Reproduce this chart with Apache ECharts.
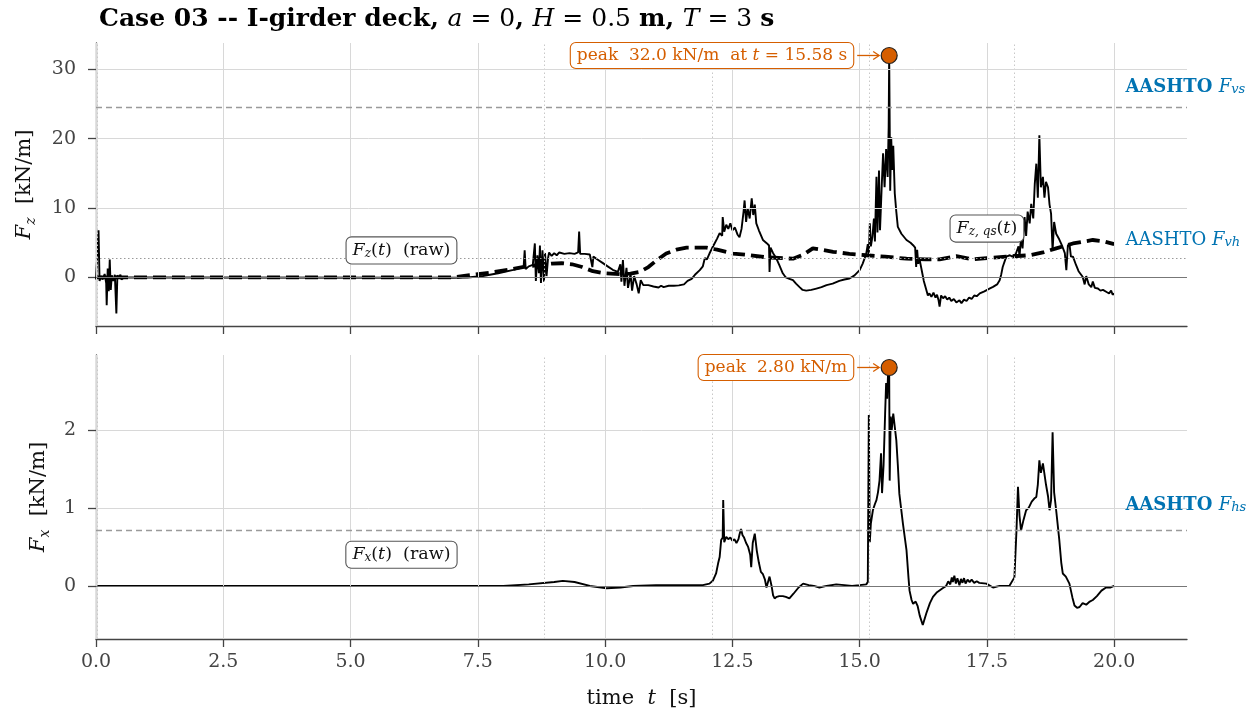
<!DOCTYPE html>
<html>
<head>
<meta charset="utf-8">
<script src="https://cdn.jsdelivr.net/npm/echarts@6/dist/echarts.min.js"></script>
<style>
  html, body { margin: 0; padding: 0; background: #ffffff; }
  #chart { width: 1257px; height: 717px; }
</style>
</head>
<body>
<div id="chart"></div>
<script>
// ---- vertical force, raw signal [s], [kN/m] ----
const fzTime = [0.00,0.03,0.05,0.07,0.10,0.13,0.17,0.20,0.21,0.23,0.25,0.27,0.29,0.31,0.34,0.37,0.40,0.42,0.45,0.48,0.50,0.55,1.0,7.0,7.3,7.6,7.9,8.2,
  8.40,8.42,8.44,8.50,8.58,8.62,8.64,8.67,8.70,8.72,8.74,8.77,8.80,8.82,8.85,8.88,8.90,8.95,9.00,9.05,9.10,9.20,9.30,9.40,9.47,9.49,9.51,9.60,9.70,9.73,9.75,9.77,
  9.85,9.95,10.05,10.15,10.25,10.30,10.32,10.35,10.38,10.42,10.45,10.50,10.53,10.57,10.62,10.66,10.70,10.75,10.85,10.95,11.05,11.10,11.15,11.25,11.35,11.45,11.55,
  11.62,11.70,11.78,11.86,11.92,11.96,12.00,12.05,12.10,12.15,12.20,12.25,12.30,12.31,12.34,12.38,12.42,12.46,12.50,12.55,12.60,12.64,12.68,12.72,12.74,12.77,12.80,
  12.84,12.88,12.91,12.94,12.97,13.02,13.10,13.18,13.22,13.23,13.25,13.30,13.36,13.42,13.49,13.55,13.62,13.69,13.75,13.82,13.88,13.95,14.05,14.15,14.25,14.35,14.47,
  14.60,14.70,14.80,14.90,15.00,15.06,15.10,15.13,15.16,15.18,15.20,15.22,15.25,15.28,15.30,15.33,15.35,15.38,15.40,15.43,15.46,15.49,15.52,15.55,15.57,15.58,15.60,
  15.62,15.64,15.66,15.69,15.72,15.75,15.82,15.92,16.00,16.05,16.09,16.11,16.13,16.15,16.18,16.22,16.26,
  16.31,16.34,16.37,16.41,16.45,16.49,16.52,16.55,16.57,16.60,16.64,16.68,16.72,16.76,16.80,16.85,16.90,16.96,17.00,17.05,17.10,17.15,17.20,17.25,17.30,17.36,
  17.45,17.55,17.62,17.70,17.75,17.78,17.81,17.88,17.95,18.00,18.07,18.12,18.14,18.17,18.20,18.24,18.27,18.30,18.34,18.37,18.41,18.44,18.47,
  18.50,18.53,18.56,18.60,18.63,18.66,18.70,18.73,18.76,18.79,18.82,18.86,18.92,18.98,19.03,19.06,19.09,19.12,19.15,19.19,19.25,19.30,19.38,19.42,19.45,19.50,19.55,
  19.58,19.62,19.68,19.73,19.78,19.85,19.90,19.94,19.97,20.00];
const fzRaw = [-0.3,-0.4,6.8,-0.5,0.2,-0.3,0.5,-0.8,-4.0,1.3,-2.0,2.6,-1.8,0.3,-0.5,0.4,-5.2,0.3,0.0,0.4,-0.3,0.0,0.0,-0.05,0.0,0.2,0.6,1.1,
  1.5,3.9,1.2,1.6,1.8,4.9,-0.5,3.2,0.6,4.6,-0.8,3.9,-0.6,3.5,0.2,2.8,3.6,3.1,3.5,3.2,3.6,3.4,3.5,3.4,3.6,6.6,3.4,3.4,3.3,3.2,1.5,3.0,
  2.6,2.1,1.6,1.1,0.8,1.9,-0.6,2.5,-1.2,1.4,-1.5,0.5,-1.9,0.2,-1.0,-2.3,-0.4,-1.1,-1.1,-1.3,-1.45,-1.2,-1.4,-1.2,-1.2,-1.15,-1.0,
  -0.5,-0.2,0.5,1.05,1.6,2.8,2.6,3.45,4.2,4.9,5.6,6.4,6.0,8.7,6.6,7.6,7.0,7.8,6.8,7.2,6.2,5.8,7.0,9.5,11.1,8.0,10.0,
  8.5,11.4,9.0,10.5,7.8,6.8,5.4,4.9,4.6,0.8,4.3,3.5,2.8,1.8,0.6,0.0,-0.2,-0.4,-0.9,-1.4,-1.8,-1.9,-1.8,-1.6,-1.4,-1.1,-0.9,
  -0.5,-0.3,-0.15,0.3,1.05,2.0,2.8,3.45,4.8,3.2,7.8,4.5,5.8,8.5,5.2,14.5,6.5,15.4,6.8,12.5,17.9,13.0,18.5,14.5,21.7,32.0,12.5,
  20.2,15.5,19.0,12.1,9.5,7.3,6.3,5.4,5.0,4.65,4.3,1.5,4.0,2.0,2.5,1.0,-0.5,
  -1.8,-2.6,-2.3,-2.8,-2.2,-2.9,-2.5,-3.3,-4.2,-2.6,-3.0,-2.7,-3.2,-2.9,-3.4,-3.1,-3.6,-3.3,-3.7,-3.2,-3.4,-2.9,-3.1,-2.6,-2.7,-2.3,
  -2.0,-1.6,-1.35,-1.0,-0.4,0.4,1.5,3.0,3.2,3.0,3.45,4.5,3.0,5.8,4.2,8.7,6.0,9.5,7.8,10.6,8.5,13.5,16.4,
  11.5,20.5,13.0,14.5,11.5,13.8,13.0,10.5,9.2,3.9,8.0,6.3,5.5,4.5,3.5,1.05,4.6,4.9,3.0,3.0,1.8,0.9,0.1,-1.0,0.2,-1.0,-1.4,
  -0.6,-1.5,-1.6,-1.9,-1.8,-2.1,-2.3,-1.9,-2.5,-2.3];

// ---- vertical force, quasi-static part ----
const fzQsTime = [0,7.0,7.34,7.73,8.1,8.38,8.70,8.95,9.15,9.35,9.55,9.76,10.0,10.29,10.50,10.68,10.85,11.0,11.2,11.4,11.6,11.99,12.2,12.51,12.85,13.17,
  13.69,13.9,14.08,14.25,14.48,14.8,15.13,15.5,15.92,16.3,16.57,16.9,17.22,17.5,17.88,18.34,18.6,18.86,19.19,19.58,19.8,20.0];
const fzQs = [0,0,0.33,0.67,1.1,1.5,1.8,2.0,2.05,1.9,1.5,0.9,0.6,0.48,0.55,0.8,1.5,2.4,3.45,4.0,4.3,4.3,4.0,3.45,3.2,2.9,
  2.7,3.3,4.2,4.0,3.7,3.4,3.2,3.0,2.7,2.6,2.6,3.06,2.6,2.8,3.0,3.2,3.6,4.2,4.9,5.4,5.2,4.8];

// ---- horizontal force, raw signal ----
const fxTime = [0,8.0,8.5,9.0,9.17,9.4,9.70,10.03,10.3,10.55,11.0,11.5,11.92,12.05,12.12,12.18,12.22,12.25,12.28,12.31,12.32,12.34,12.38,12.42,12.46,12.50,
  12.54,12.58,12.62,12.64,12.67,12.70,12.73,12.77,12.81,12.85,12.87,12.90,12.94,12.98,13.02,13.06,13.10,13.14,13.17,13.20,13.23,13.27,13.30,13.33,13.37,13.42,
  13.49,13.55,13.62,13.70,13.80,13.89,14.0,14.1,14.21,14.35,14.54,14.7,14.85,15.0,15.13,15.16,15.18,15.20,15.22,15.26,15.30,15.33,15.36,15.39,15.42,15.44,15.47,
  15.50,15.52,15.54,15.56,15.58,15.59,15.61,15.63,15.66,15.69,15.72,15.75,15.78,15.85,15.92,15.96,15.98,16.02,16.05,16.10,16.14,16.18,16.24,16.27,16.31,16.38,
  16.44,16.52,16.63,16.70,16.74,16.78,16.81,16.83,16.86,16.89,16.92,16.96,16.99,17.02,17.05,17.08,17.12,17.16,17.20,17.25,17.30,17.35,17.49,
  17.62,17.75,17.94,18.04,18.08,18.11,18.14,18.17,18.22,18.27,18.32,
  18.38,18.43,18.47,18.50,18.53,18.56,18.60,18.63,18.66,18.70,18.73,18.76,18.79,18.82,18.86,18.92,18.96,18.99,19.05,19.12,19.18,19.22,19.27,19.32,19.38,19.45,
  19.52,19.58,19.66,19.75,19.84,19.92,20.00];
const fxRaw = [0,0.0,0.02,0.05,0.065,0.05,0.0,-0.03,-0.02,0.0,0.01,0.01,0.01,0.03,0.07,0.16,0.29,0.37,0.59,0.62,1.10,0.56,0.63,0.60,0.62,0.58,
  0.60,0.55,0.60,0.66,0.73,0.65,0.62,0.55,0.50,0.40,0.24,0.55,0.67,0.45,0.30,0.18,0.15,0.08,-0.02,0.05,0.12,0.00,-0.12,-0.16,-0.14,-0.13,
  -0.13,-0.14,-0.16,-0.10,-0.02,0.03,0.01,0.0,-0.02,0.0,0.02,0.01,0.0,0.01,0.02,0.05,2.19,0.56,0.80,0.97,1.05,1.10,1.20,1.35,1.70,1.19,1.55,
  2.2,2.60,2.40,2.75,2.80,1.35,2.17,2.0,2.21,2.21,1.87,1.55,1.18,0.80,0.46,0.10,-0.06,-0.18,-0.23,-0.20,-0.26,-0.38,-0.50,-0.48,-0.35,-0.22,
  -0.14,-0.08,-0.03,0.0,0.06,0.02,0.11,0.05,0.13,0.03,0.10,0.01,0.09,0.04,0.10,0.03,0.08,0.05,0.08,0.04,0.06,0.04,0.03,
  -0.02,0.0,0.0,0.11,0.7,1.27,0.9,0.71,0.85,0.97,1.00,
  1.08,1.12,1.14,1.30,1.61,1.45,1.57,1.57,1.30,1.15,0.97,1.10,1.97,1.20,0.97,0.60,0.30,0.16,0.12,0.03,-0.15,-0.25,-0.28,-0.27,-0.22,-0.24,
  -0.20,-0.18,-0.13,-0.06,-0.02,-0.02,0.0];

// ---- design reference levels and events ----
const aashtoFvs = 24.55;   // kN/m
const aashtoFvh = 2.8;     // kN/m
const aashtoFhs = 0.72;    // kN/m
const waveArrivals = [0.02, 8.81, 12.10, 15.18, 18.04];
const peakFz = { t: 15.58, value: 32.0 };
const peakFx = { t: 15.58, value: 2.80 };

const timeTicks = [0, 2.5, 5, 7.5, 10, 12.5, 15, 17.5, 20];
const fzTicks = [0, 10, 20, 30];
const fxTicks = [0, 1, 2];

// ---- styling ----
const SERIF = '"DejaVu Serif", "Liberation Serif", serif';
const ORANGE = '#d55e00';
const BLUE = '#0173b2';
const GRID_GREY = '#d8d8d8';
const AXIS_GREY = '#444444';

const zip = (a, b) => a.map((x, i) => [x, b[i]]);

const chart = echarts.init(document.getElementById('chart'), null, { renderer: 'canvas' });

function xAxisFor(gridIndex, withLabels) {
  return {
    type: 'value', gridIndex, min: 0, max: 21.43,
    axisLine: { show: true, onZero: false, lineStyle: { color: AXIS_GREY, width: 1.3 } },
    axisTick: { show: true, length: 8, customValues: timeTicks, lineStyle: { color: AXIS_GREY, width: 1.3 } },
    axisLabel: { show: withLabels, customValues: timeTicks, margin: 14, color: AXIS_GREY, fontFamily: SERIF, fontSize: 19,
      formatter: v => v.toFixed(1) },
    splitLine: { show: false },
    name: withLabels ? 'time  {i|t}  [s]' : '',
    nameLocation: 'middle', nameGap: 49,
    nameTextStyle: { fontFamily: SERIF, fontSize: 21, color: '#111',
      rich: { i: { fontFamily: SERIF, fontStyle: 'italic', fontSize: 21, color: '#111' } } }
  };
}

function yAxisFor(gridIndex, min, max, ticks, sub, gap) {
  return {
    type: 'value', gridIndex, min, max,
    axisLine: { show: true, onZero: false, lineStyle: { color: AXIS_GREY, width: 1.3 } },
    axisTick: { show: true, length: 8, customValues: ticks, lineStyle: { color: AXIS_GREY, width: 1.3 } },
    axisLabel: { customValues: ticks, margin: 20, color: AXIS_GREY, fontFamily: SERIF, fontSize: 19 },
    splitLine: { show: false },
    name: '{i|F}{s|' + sub + '}{n|  [kN/m]}',
    nameLocation: 'middle', nameRotate: 90, nameGap: gap,
    nameTextStyle: {
      rich: {
        i: { fontFamily: SERIF, fontStyle: 'italic', fontSize: 21, color: '#111', lineHeight: 26 },
        s: { fontFamily: SERIF, fontStyle: 'italic', fontSize: 14, color: '#111', verticalAlign: 'bottom', lineHeight: 16 },
        n: { fontFamily: SERIF, fontSize: 21, color: '#111', lineHeight: 26 }
      }
    }
  };
}

function guideLines(ticks, refs) {
  const data = [];
  timeTicks.forEach(t => data.push({ xAxis: t, lineStyle: { color: GRID_GREY, width: 1, type: 'solid' } }));
  waveArrivals.forEach(t => data.push({ xAxis: t, lineStyle: { color: '#c8c8c8', width: 1, type: [1.5, 2.5] } }));
  ticks.filter(v => v !== 0).forEach(v => data.push({ yAxis: v, lineStyle: { color: GRID_GREY, width: 1, type: 'solid' } }));
  data.push({ yAxis: 0, lineStyle: { color: '#777777', width: 1.1, type: 'solid' } });
  refs.forEach(r => data.push(r));
  return data;
}

const option = {
  animation: false,
  backgroundColor: '#ffffff',
  title: {
    text: '{b|Case 03 -- I-girder deck, }{i|a}{m| = 0}{b|, }{i|H}{m| = 0.5 }{b|m, }{i|T}{m| = 3 }{b|s}',
    left: 94, top: 2,
    textStyle: {
      fontWeight: 'normal',
      rich: {
        b: { fontFamily: SERIF, fontWeight: 'bold', fontSize: 25, color: '#000' },
        i: { fontFamily: SERIF, fontStyle: 'italic', fontWeight: 'normal', fontSize: 25, color: '#000' },
        m: { fontFamily: SERIF, fontWeight: 'normal', fontSize: 25, color: '#000' }
      }
    }
  },
  grid: [
    { left: 96, top: 43, width: 1091, height: 283 },
    { left: 96, top: 355, width: 1091, height: 284 }
  ],
  xAxis: [xAxisFor(0, false), xAxisFor(1, true)],
  yAxis: [yAxisFor(0, -7.0, 33.8, fzTicks, 'z', 58), yAxisFor(1, -0.68, 2.96, fxTicks, 'x', 44)],
  series: [
    {
      name: 'guides-top', type: 'line', xAxisIndex: 0, yAxisIndex: 0, data: [], z: 1, silent: true,
      markLine: { symbol: 'none', silent: true, label: { show: false }, animation: false,
        data: guideLines(fzTicks, [
          { yAxis: aashtoFvs, lineStyle: { color: '#9a9a9a', width: 1.4, type: [6, 4] } },
          { yAxis: aashtoFvh, lineStyle: { color: '#9a9a9a', width: 1.2, type: [1.5, 2.5] } }
        ]) }
    },
    {
      name: 'guides-bottom', type: 'line', xAxisIndex: 1, yAxisIndex: 1, data: [], z: 1, silent: true,
      markLine: { symbol: 'none', silent: true, label: { show: false }, animation: false,
        data: guideLines(fxTicks, [
          { yAxis: aashtoFhs, lineStyle: { color: '#9a9a9a', width: 1.4, type: [6, 4] } }
        ]) }
    },
    {
      name: 'Fz raw', type: 'line', xAxisIndex: 0, yAxisIndex: 0, data: zip(fzTime, fzRaw),
      showSymbol: false, sampling: null, z: 3, lineStyle: { color: '#000', width: 1.9 }
    },
    {
      name: 'Fz qs', type: 'line', xAxisIndex: 0, yAxisIndex: 0, data: zip(fzQsTime, fzQs),
      showSymbol: false, smooth: false, z: 4, lineStyle: { color: '#000', width: 3.8, type: [13, 6] }
    },
    {
      name: 'Fx raw', type: 'line', xAxisIndex: 1, yAxisIndex: 1, data: zip(fxTime, fxRaw),
      showSymbol: false, z: 3, lineStyle: { color: '#000', width: 1.9 }
    },
    {
      name: 'Fz peak', type: 'scatter', xAxisIndex: 0, yAxisIndex: 0, data: [[peakFz.t, peakFz.value]],
      symbolSize: 16, z: 6, itemStyle: { color: ORANGE, borderColor: '#222', borderWidth: 1.2, opacity: 1 }
    },
    {
      name: 'Fx peak', type: 'scatter', xAxisIndex: 1, yAxisIndex: 1, data: [[peakFx.t, peakFx.value]],
      symbolSize: 16, z: 6, itemStyle: { color: ORANGE, borderColor: '#222', borderWidth: 1.2, opacity: 1 }
    }
  ]
};

chart.setOption(option);

// ---- annotations placed through the axes' own scales ----
const toPx = (gridIndex, t, v) => chart.convertToPixel({ gridIndex }, [t, v]);

const labelRich = (color, size) => ({
  n: { fontFamily: SERIF, fontSize: size, fill: color },
  i: { fontFamily: SERIF, fontStyle: 'italic', fontSize: size, fill: color },
  s: { fontFamily: SERIF, fontStyle: 'italic', fontSize: Math.round(size * 0.7), fill: color, verticalAlign: 'bottom', lineHeight: Math.round(size * 0.75) },
  b: { fontFamily: SERIF, fontWeight: 'bold', fontSize: size, fill: color }
});

function boxedText(pos, text, opts) {
  const color = opts.color || '#111';
  const size = opts.size || 17.5;
  return {
    type: 'text', x: pos[0], y: pos[1], z: 20,
    style: {
      text, fill: color, fontFamily: SERIF, fontSize: size, rich: labelRich(color, size),
      align: opts.align || 'center', verticalAlign: 'middle',
      backgroundColor: '#ffffff', borderColor: opts.border || '#555', borderWidth: 1.1, borderRadius: 5,
      padding: opts.padding || [4, 6]
    }
  };
}

function plainText(pos, text, color, size) {
  return {
    type: 'text', x: pos[0], y: pos[1], z: 20,
    style: { text, fill: color, fontFamily: SERIF, fontSize: size, rich: labelRich(color, size), align: 'left', verticalAlign: 'middle' }
  };
}

function peakCallout(gridIndex, peak, text) {
  const p = toPx(gridIndex, peak.t, peak.value);
  const boxRight = p[0] - 36;
  const arrowStart = boxRight + 4, arrowEnd = p[0] - 10;
  return [
    boxedText([boxRight, p[1]], text, { color: ORANGE, border: ORANGE, align: 'right', size: 17, padding: [4, 6] }),
    { type: 'line', z: 20, shape: { x1: arrowStart, y1: p[1], x2: arrowEnd, y2: p[1] }, style: { stroke: ORANGE, lineWidth: 1.3 } },
    { type: 'polyline', z: 20, shape: { points: [[arrowEnd - 6, p[1] - 4], [arrowEnd, p[1]], [arrowEnd - 6, p[1] + 4]] },
      style: { stroke: ORANGE, lineWidth: 1.3, fill: null } }
  ];
}

const graphics = [].concat(
  peakCallout(0, peakFz, '{n|peak  ' + peakFz.value.toFixed(1) + ' kN/m  at }{i|t}{n| = ' + peakFz.t.toFixed(2) + ' s}'),
  peakCallout(1, peakFx, '{n|peak  ' + peakFx.value.toFixed(2) + ' kN/m}'),
  [
    boxedText(toPx(0, 6.0, 3.9), '{i|F}{s|z}{n|(}{i|t}{n|)  (raw)}', {}),
    boxedText(toPx(0, 17.5, 7.05), '{i|F}{s|z, qs}{n|(}{i|t}{n|)}', {}),
    boxedText(toPx(1, 6.0, 0.4), '{i|F}{s|x}{n|(}{i|t}{n|)  (raw)}', {}),
    plainText(toPx(0, 20.22, 27.4), '{b|AASHTO }{i|F}{s|vs}', BLUE, 18),
    plainText(toPx(0, 20.22, 5.4), '{n|AASHTO }{i|F}{s|vh}', BLUE, 18),
    plainText(toPx(1, 20.22, 1.03), '{b|AASHTO }{i|F}{s|hs}', BLUE, 18)
  ]
);

chart.setOption({ graphic: graphics });
</script>
</body>
</html>
